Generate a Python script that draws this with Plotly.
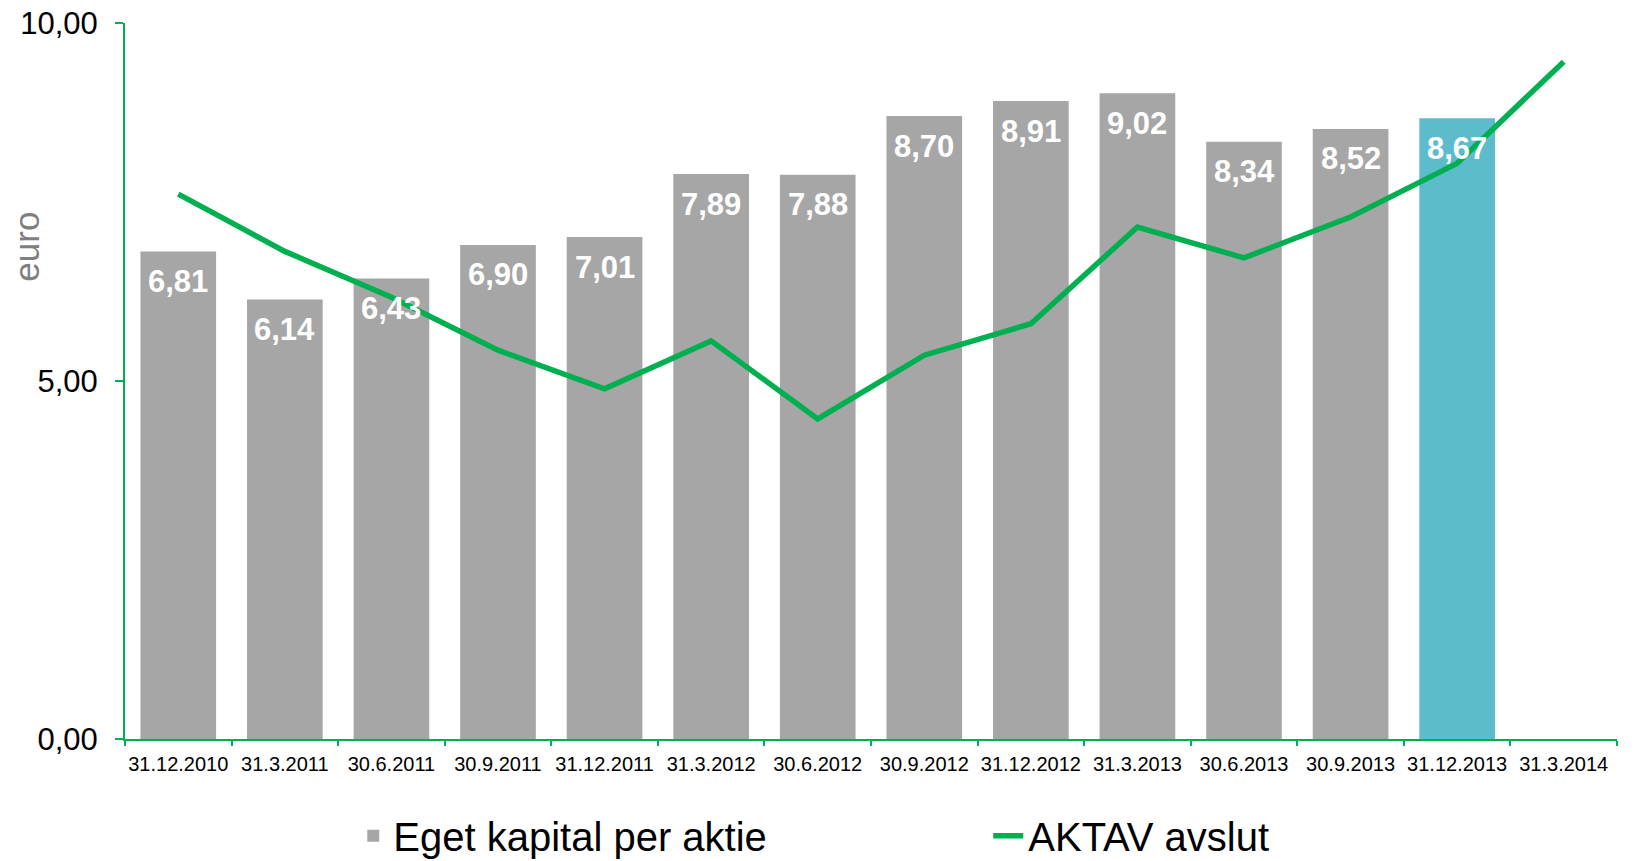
import plotly.graph_objects as go

categories = ["31.12.2010", "31.3.2011", "30.6.2011", "30.9.2011", "31.12.2011",
              "31.3.2012", "30.6.2012", "30.9.2012", "31.12.2012", "31.3.2013",
              "30.6.2013", "30.9.2013", "31.12.2013", "31.3.2014"]
equity_per_share = [6.81, 6.14, 6.43, 6.90, 7.01, 7.89, 7.88, 8.70, 8.91, 9.02,
                    8.34, 8.52, 8.67, None]
aktav_close = [7.61, 6.81, 6.17, 5.43, 4.89, 5.56, 4.47, 5.36, 5.80, 7.15,
               6.72, 7.29, 8.04, 9.46]
bar_colors = ["#A6A6A6"] * 12 + ["#5DBCCB", "#A6A6A6"]
y_ticks = [0, 5, 10]
y_ticktext = ["0,00", "5,00", "10,00"]

GREEN = "#00B050"
FONT = "Arial, Liberation Sans, sans-serif"

fig = go.Figure()
fig.add_trace(go.Bar(
    x=categories, y=equity_per_share, name="Eget kapital per aktie",
    marker=dict(color=bar_colors, line=dict(width=0)),
))
fig.add_trace(go.Scatter(
    x=categories, y=aktav_close, name="AKTAV avslut", mode="lines",
    line=dict(color=GREEN, width=5.5),
))

for c, v in zip(categories, equity_per_share):
    if v is None:
        continue
    fig.add_annotation(
        x=c, y=v, xref="x", yref="y", text=f"{v:.2f}".replace(".", ","),
        showarrow=False, yanchor="middle", yshift=-30,
        font=dict(family=FONT, size=31, color="white", weight="bold"),
    )

fig.add_annotation(
    x=-0.066, y=0.687, xref="paper", yref="paper", text="euro",
    textangle=-90, showarrow=False, xanchor="center", yanchor="middle",
    font=dict(family=FONT, size=35, color="#7F7F7F"),
)

fig.update_layout(
    width=1636, height=861,
    margin=dict(l=117, r=27, t=15, b=130, autoexpand=False),
    paper_bgcolor="white", plot_bgcolor="white",
    bargap=0.29,
    showlegend=True,
    legend=dict(
        orientation="h", x=0.153, y=-0.0896, xanchor="left", yanchor="top",
        font=dict(family=FONT, size=40, color="black"),
        entrywidth=590, entrywidthmode="pixels",
        traceorder="normal",
    ),
    font=dict(family=FONT),
)
fig.update_xaxes(
    type="category", showline=True, linecolor=GREEN, linewidth=2,
    ticks="outside", ticklen=5, tickcolor=GREEN, tickwidth=2,
    tickson="boundaries", showgrid=False, zeroline=False, automargin=False,
    tickangle=0, ticklabeloverflow="allow",
    tickfont=dict(family=FONT, size=20, color="black"),
    ticklabelstandoff=6,
)
fig.update_yaxes(
    range=[0, 10], tickvals=y_ticks, ticktext=y_ticktext,
    showline=True, linecolor=GREEN, linewidth=2,
    ticks="outside", ticklen=8, tickcolor=GREEN, tickwidth=2,
    showgrid=False, zeroline=False, automargin=False,
    ticklabeloverflow="allow",
    tickfont=dict(family=FONT, size=31, color="black"),
    ticklabelstandoff=11,
)

fig.write_html("out.html")
